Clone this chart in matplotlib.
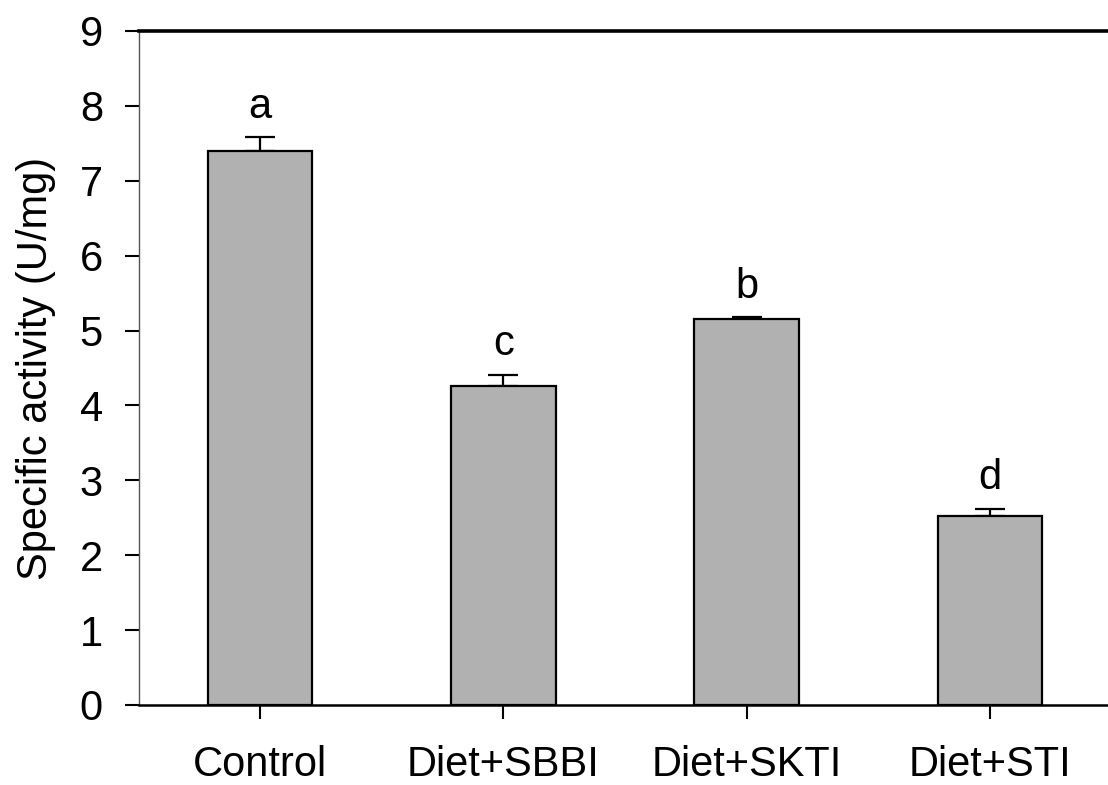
import numpy as np
import matplotlib
matplotlib.use("Agg")
import matplotlib.pyplot as plt

plt.rcParams['font.family'] = ['Liberation Sans', 'DejaVu Sans']

# data
groups = ["Control", "Diet+SBBI", "Diet+SKTI", "Diet+STI"]
activity = [7.40, 4.26, 5.15, 2.52]
activity_err = [0.18, 0.15, 0.03, 0.10]
sig_letters = ["a", "c", "b", "d"]

fig = plt.figure(figsize=(11.08, 7.85), dpi=100)
ax = fig.add_axes([139 / 1108, 80 / 785, (1108 - 139) / 1108, 674 / 785])

x = np.arange(len(groups))
# only the upper half of the error bar is shown
ax.errorbar(x, activity, yerr=[np.zeros(len(groups)), activity_err], fmt='none',
            ecolor='black', elinewidth=1.6, capsize=10.8, capthick=1.6, zorder=1)
ax.bar(x, activity, width=0.43, color='#b1b1b1', edgecolor='black', linewidth=1.6, zorder=2)

for xi, m, e, lab in zip(x, activity, activity_err, sig_letters):
    ax.text(xi, m + e + 0.26, lab, ha='center', va='baseline', fontsize=30)

ax.set_xlim(-0.497, 3.485)
ax.set_ylim(0, 9)
ax.set_yticks(range(0, 10))
ax.set_xticks(x)
ax.set_xticklabels(groups)
ax.set_ylabel("Specific activity (U/mg)", fontsize=30, labelpad=17)

ax.tick_params(axis='both', labelsize=30, direction='out', length=10, width=1.5, color='black')
ax.tick_params(axis='y', pad=16)
ax.tick_params(axis='x', pad=19)

ax.spines['right'].set_visible(False)
ax.spines['top'].set_linewidth(2.6)
ax.spines['bottom'].set_linewidth(1.8)
ax.spines['left'].set_linewidth(1.0)
ax.spines['left'].set_color('#555555')

fig.savefig("out.png", dpi=100)
